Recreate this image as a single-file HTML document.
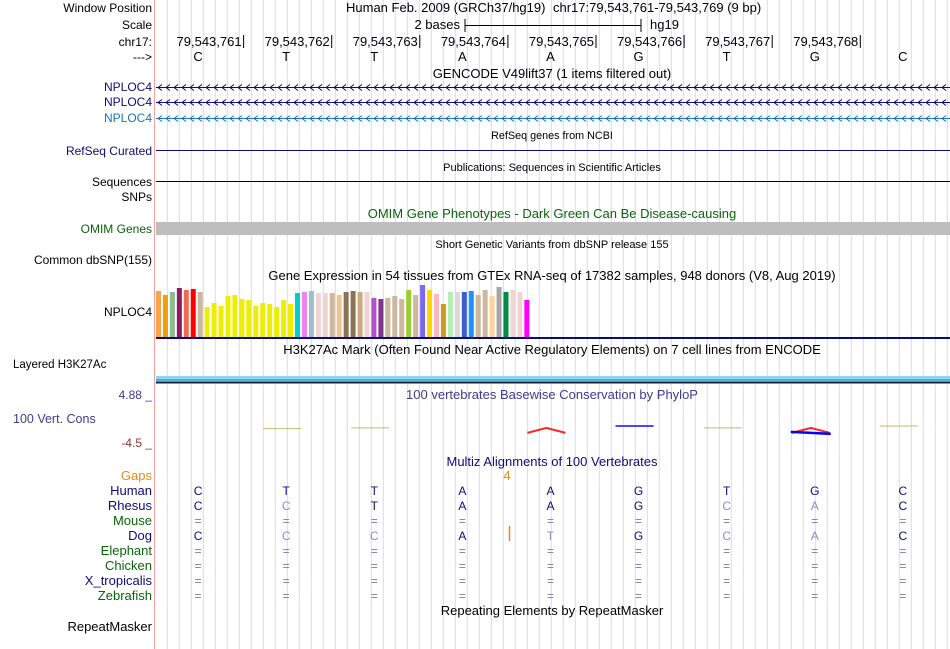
<!DOCTYPE html>
<html><head><meta charset="utf-8"><style>
html,body{margin:0;padding:0;background:#fff;width:950px;height:649px;overflow:hidden}
svg{display:block;font-family:"Liberation Sans",sans-serif}
</style></head><body>
<svg id="s" width="950" height="649" viewBox="0 0 950 649" xmlns="http://www.w3.org/2000/svg">
<g id="grid"></g>
<line x1="154.5" y1="0" x2="154.5" y2="649" stroke="#f4a0a0"/>
<g font-size="12" text-anchor="end">
<text x="152" y="12" fill="#000">Window Position</text>
<text x="152" y="29" fill="#000">Scale</text>
<text x="152" y="46" fill="#000">chr17:</text>
<text x="152" y="61" fill="#000">---&gt;</text>
<text x="152" y="91" fill="#0c0c78">NPLOC4</text>
<text x="152" y="106" fill="#0c0c78">NPLOC4</text>
<text x="152" y="122" fill="#1a74b8">NPLOC4</text>
<text x="152" y="155" fill="#0c0c78">RefSeq Curated</text>
<text x="152" y="186" fill="#000">Sequences</text>
<text x="152" y="201" fill="#000">SNPs</text>
<text x="152" y="233" fill="#0a640a">OMIM Genes</text>
<text x="152" y="264" fill="#000">Common dbSNP(155)</text>
<text x="152" y="316" fill="#000">NPLOC4</text>
<text x="13" y="368" fill="#000" font-size="11.5" text-anchor="start">Layered H3K27Ac</text>
<text x="152" y="399" fill="#3c3c8c">4.88 _</text>
<text x="13" y="423" fill="#3c3c8c" font-size="12.5" text-anchor="start">100 Vert. Cons</text>
<text x="152" y="447" fill="#8c3232">-4.5 _</text>
<text x="152" y="480" fill="#e68c14" font-size="13">Gaps</text>
<text x="152" y="631" fill="#000" font-size="13">RepeatMasker</text>
</g>
<g id="species" font-size="13" text-anchor="end"></g>
<g font-size="13" text-anchor="middle">
<text x="346" y="12" text-anchor="start">Human Feb. 2009 (GRCh37/hg19)</text>
<text x="553" y="12" text-anchor="start">chr17:79,543,761-79,543,769 (9 bp)</text>
<text x="460" y="29" text-anchor="end">2 bases</text>
<text x="650" y="29" text-anchor="start">hg19</text>
<text x="552" y="78">GENCODE V49lift37 (1 items filtered out)</text>
<text x="552" y="139" font-size="10.8">RefSeq genes from NCBI</text>
<text x="552" y="171" font-size="11">Publications: Sequences in Scientific Articles</text>
<text x="552" y="218" fill="#0a640a">OMIM Gene Phenotypes - Dark Green Can Be Disease-causing</text>
<text x="552" y="248" font-size="11">Short Genetic Variants from dbSNP release 155</text>
<text x="552" y="280">Gene Expression in 54 tissues from GTEx RNA-seq of 17382 samples, 948 donors (V8, Aug 2019)</text>
<text x="552" y="354">H3K27Ac Mark (Often Found Near Active Regulatory Elements) on 7 cell lines from ENCODE</text>
<text x="552" y="399" fill="#3c3c8c">100 vertebrates Basewise Conservation by PhyloP</text>
<text x="552" y="466" fill="#0c0c78">Multiz Alignments of 100 Vertebrates</text>
<text x="552" y="615">Repeating Elements by RepeatMasker</text>
<text x="507" y="480" fill="#e68c14">4</text>
</g>
<g stroke="#000">
<line x1="465" y1="19" x2="465" y2="32"/><line x1="641" y1="19" x2="641" y2="32"/><line x1="465" y1="25.5" x2="641" y2="25.5"/>
</g>
<g id="ruler" font-size="13"></g>
<g id="genes"></g>
<line x1="156" y1="150.5" x2="950" y2="150.5" stroke="#0c0c78"/>
<line x1="156" y1="181.5" x2="950" y2="181.5" stroke="#000"/>
<rect x="156" y="222" width="794" height="13" fill="#bebebe"/>
<g id="gtex"></g>
<rect x="156" y="337" width="794" height="2" fill="#0c0c78"/>
<g>
<rect x="156" y="376" width="794" height="3" fill="#8fd4f0"/>
<rect x="156" y="379" width="794" height="2" fill="#46b4d2"/>
<rect x="156" y="381" width="794" height="1" fill="#5a8cb4"/>
<rect x="156" y="382" width="794" height="1" fill="#1e1e3c"/>
<rect x="156" y="383" width="794" height="1" fill="#8c8cb4"/>
</g>
<g id="phylop"></g>
<g id="align" font-size="12" text-anchor="middle"></g>
<line x1="509.5" y1="526" x2="509.5" y2="541" stroke="#e68c14" stroke-width="1.5"/>
</svg>
<script>
const NS="http://www.w3.org/2000/svg";
const bases=["C","T","T","A","A","G","T","G","C"];
const positions=["79,543,761","79,543,762","79,543,763","79,543,764","79,543,765","79,543,766","79,543,767","79,543,768"];
const gtexValues=[46,42,45,49,47,48,45,30,34,31,41,42,38,37,31,34,33,30,37,33,44,45,46,44,44,44,42,45,46,45,45,39,38,39,41,38,47,42,52,47,43,33,45,45,45,46,42,47,41,50,45,47,45,37];
const gtexColors=["#f8a54a","#f0a00a","#8fbc8f","#8b1c62","#ee6a50","#ff0000","#cdb79e","#eeee00","#eeee00","#eeee00","#eeee00","#eeee00","#eeee00","#eeee00","#eeee00","#eeee00","#eeee00","#eeee00","#eeee00","#eeee00","#00cdcd","#ee82ee","#9ac0cd","#eed5d2","#eed5d2","#cdb79e","#eec591","#8b7355","#8b7355","#cdaa7d","#eed5d2","#b452cd","#7a378b","#cdb79e","#cdb79e","#cdb79e","#9acd32","#cdb79e","#7b68ee","#ffd700","#ffb6c1","#cd9b1d","#b4eeb4","#d9d9d9","#3a5fcd","#1e90ff","#cdb79e","#cdb79e","#ffd39b","#a6a6a6","#008b45","#eed5d2","#eed5d2","#ff00ff"];
const phyloScores=[null,-1.75,-1.6,null,-1.6,-1.25,-1.6,-1.6,-1.25];
const phyloSign=[0,-1,-1,0,-2,1,-1,-2,-1];
const species=["Human","Rhesus","Mouse","Dog","Elephant","Chicken","X_tropicalis","Zebrafish"];
const speciesColors=["#0c0c78","#0c0c78","#0a640a","#0c0c78","#0a640a","#0a640a","#0c0c78","#0a640a"];
const alignRows=["CTTAAGTGC","CCTAAGCAC","=========","CCCATGCAC","=========","=========","=========","========="];
const X0=156,BW=88.1;
const bx=i=>X0+BW*i+BW/2;
const gY=v=>337-v;
const pY=v=>394+(4.88-v)/(4.88+4.5)*49;
function mk(t,a,p){const e=document.createElementNS(NS,t);for(const k in a)e.setAttribute(k,a[k]);(p||document.getElementById('s')).appendChild(e);return e;}
const grid=document.getElementById('grid');
for(let x=167.3;x<950;x+=12){const l=mk('line',{x1:x,y1:0,x2:x,y2:649,stroke:'#d8d8f4'},grid);

}
const genes=document.getElementById('genes');
[[87.5,'#0c0c78'],[102.5,'#0c0c78'],[118.5,'#1a74b8']].forEach(([y,c])=>{
let d=`M156,${y} L950,${y}`;
for(let x=158;x<948;x+=8)d+=` M${x+4},${y-3} L${x},${y} L${x+4},${y+3}`;
const p=mk('path',{d:d,stroke:c,fill:'none','stroke-width':1},genes);

});
const ruler=document.getElementById('ruler');
positions.forEach((p,i)=>{const x=X0+BW*(i+1)-0.5;
const t=mk('text',{x:x-2,y:46,'text-anchor':'end'},ruler);t.textContent=p;


const l=mk('line',{x1:x,y1:35,x2:x,y2:48,stroke:'#000'},ruler);

});
bases.forEach((b,i)=>{const t=mk('text',{x:bx(i)-2,y:61,'text-anchor':'middle'},ruler);t.textContent=b;

});
const gt=document.getElementById('gtex');
gtexValues.forEach((v,i)=>{const r=mk('rect',{x:156+i*6.95,y:gY(v),width:5,height:v,fill:gtexColors[i]},gt);

});
const ph=document.getElementById('phylop');
phyloScores.forEach((v,i)=>{if(v===null)return;const y=pY(v);const s=phyloSign[i];
const c=s>0?'#2828ff':(s<-1?'#ff0000':'#b4b450');
const cx=bx(i)-6;
const d=s<-1?`M${cx-19},${y+5} L${cx},${y} L${cx+19},${y+5}`:`M${cx-19},${y} L${cx+19},${y}`;
const l=mk('path',{d:d,stroke:c,fill:'none','stroke-width':s>0||s<-1?2:1,opacity:0.85},ph);


if(i===7){const b=mk('path',{d:`M${cx-20},${y+4} L${cx+20},${y+6}`,stroke:'#0000ff','stroke-width':2.5,fill:'none'},ph);

}});
const sp=document.getElementById('species'),al=document.getElementById('align');
species.forEach((n,r)=>{const y=495+r*15;
const t=mk('text',{x:152,y:y,fill:speciesColors[r]},sp);t.textContent=n;


alignRows[r].split('').forEach((c,i)=>{const same=c===bases[i];
const e=mk('text',{x:bx(i)-2,y:y,fill:c==='='?'#7878b4':(same?'#0c0c78':'#8c8cc8')},al);e.textContent=c;

});});
</script>
</body></html>
